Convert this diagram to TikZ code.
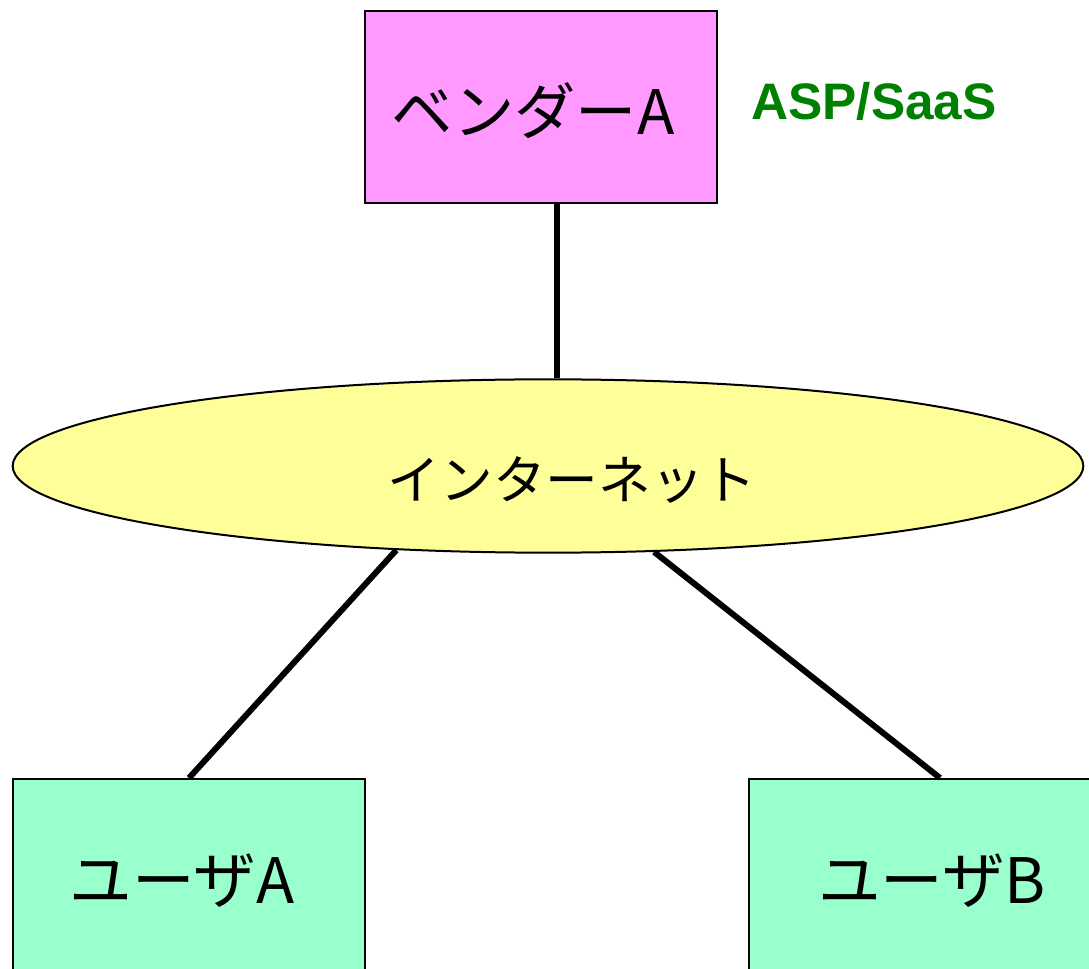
\documentclass[tikz,border=0pt]{standalone}
\usepackage{fontspec}
\newfontfamily\jp{Noto Sans CJK JP}
\newfontfamily\lat{Liberation Sans}
\usetikzlibrary{shapes.geometric}
\definecolor{vendorpink}{HTML}{FF99FF}
\definecolor{netyellow}{HTML}{FFFF99}
\definecolor{usergreen}{HTML}{99FFCC}
\definecolor{labelgreen}{HTML}{008000}
\tikzset{
  boxnode/.style={draw=black, line width=1.5pt, minimum width=264pt, minimum height=144pt, inner sep=0pt},
  netnode/.style={ellipse, draw=black, line width=1.5pt, fill=netyellow, minimum width=803pt, minimum height=130pt, inner sep=0pt},
  labeltext/.style={inner sep=0pt},
  link/.style={line width=4.5pt}
}
\begin{document}
\begin{tikzpicture}[x=0.75pt,y=-0.75pt]
\useasboundingbox (0,0) rectangle (1089,969);
\node[boxnode, fill=vendorpink] (vendor) at (541,107) {};
\node[labeltext, font=\jp\fontsize{46}{48}\selectfont] (vendortext) at (533,111) {ベンダーA};
\node[netnode] (net) at (548,466) {};
\node[labeltext, font=\jp\fontsize{39.5}{42}\selectfont] (nettext) at (572,480) {インターネット};
\node[boxnode, fill=usergreen] (userA) at (189,875) {};
\node[labeltext, font=\jp\fontsize{47}{50}\selectfont] (userAtext) at (182,881) {ユーザA};
\node[boxnode, fill=usergreen] (userB) at (925,875) {};
\node[labeltext, font=\jp\fontsize{47}{50}\selectfont] (userBtext) at (932,881) {ユーザB};
\node[font=\lat\bfseries\fontsize{38.5}{40}\selectfont, text=labelgreen] (asp) at (874,101) {ASP/SaaS};
\draw[link] (vendor.south -| net.84) -- (net.84);
\draw[link] (net.209) -- (userA.north);
\draw[link] (net.321) -- ([xshift=11.25pt]userB.north);
\end{tikzpicture}
\end{document}
